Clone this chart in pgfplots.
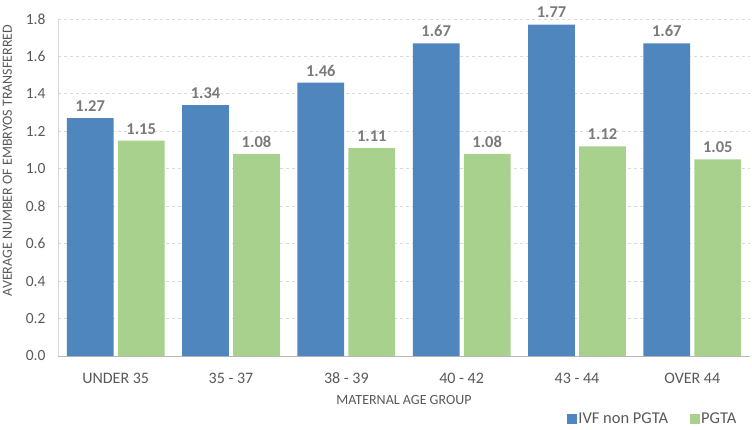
\documentclass[border=0pt]{standalone}
\usepackage{pgfplots}
\pgfplotsset{compat=1.18}
\usepackage{fontspec}
\setmainfont{Carlito}
\definecolor{ivfblue}{HTML}{4F86BD}
\definecolor{pgtagreen}{HTML}{A9D18E}
\definecolor{lblgray}{HTML}{7A7A7A}
\definecolor{txtgray}{HTML}{595959}
\definecolor{gridgray}{HTML}{D9D9D9}
\begin{document}
\begin{tikzpicture}
\begin{axis}[
  scale only axis,
  width=692pt, height=337pt,
  ybar, bar width=0.405, 
  xmin=-0.5, xmax=5.5,
  ymin=0, ymax=1.8,
  ytick={0,0.2,...,1.8},
  xtick={0,1,2,3,4,5},
  xticklabels={UNDER 35, 35 - 37, 38 - 39, 40 - 42, 43 - 44, OVER 44},
  yticklabel style={/pgf/number format/fixed, /pgf/number format/fixed zerofill, /pgf/number format/precision=1, xshift=-9pt},
  /pgf/number format/assume math mode=true,
  tick label style={font=\fontsize{15.5}{17}\selectfont, text=txtgray},
  xticklabel style={font=\fontsize{16}{18}\selectfont, text=txtgray, anchor=center, yshift=-22pt},
  major tick length=0pt,
  axis x line*=bottom, axis y line*=left,
  x axis line style={draw=gridgray!85!black, line width=0.8pt},
  y axis line style={draw=gridgray, line width=0.8pt},
  ymajorgrids, grid style={dashed, gridgray, line width=0.8pt},
  xlabel={MATERNAL AGE GROUP},
  ylabel={AVERAGE NUMBER OF EMBRYOS TRANSFERRED},
  label style={font=\fontsize{14}{16}\selectfont, text=txtgray},
  xlabel style={at={(axis description cs:0.5,0)}, anchor=center, yshift=-44pt},
  ylabel style={at={(axis description cs:-0.073,0.58)}, anchor=center},
  nodes near coords,
  nodes near coords style={font=\bfseries\fontsize{16.5}{18}\selectfont, text=lblgray, /pgf/number format/fixed, /pgf/number format/fixed zerofill, /pgf/number format/precision=2, yshift=3pt},
  legend style={draw=none, at={(1,0)}, anchor=east, xshift=-9pt, yshift=-63pt, legend columns=2, font=\fontsize{16.5}{18}\selectfont, text=txtgray, nodes={inner sep=1.5pt}, /tikz/every even column/.append style={column sep=20pt}},
  legend image code/.code={\fill[#1] (0pt,-5pt) rectangle (10pt,5pt);},
]
\addplot[fill=ivfblue, draw=none, bar shift=-0.221] coordinates {(0,1.27) (1,1.34) (2,1.46) (3,1.67) (4,1.77) (5,1.67)};
\addplot[fill=pgtagreen, draw=none, bar shift=0.221] coordinates {(0,1.15) (1,1.08) (2,1.11) (3,1.08) (4,1.12) (5,1.05)};
\legend{IVF non PGTA, PGTA}
\end{axis}
\pgfresetboundingbox
\useasboundingbox (current axis.south west) ++(-58pt,-73pt) rectangle ++(752pt,429pt);
\end{tikzpicture}
\end{document}
